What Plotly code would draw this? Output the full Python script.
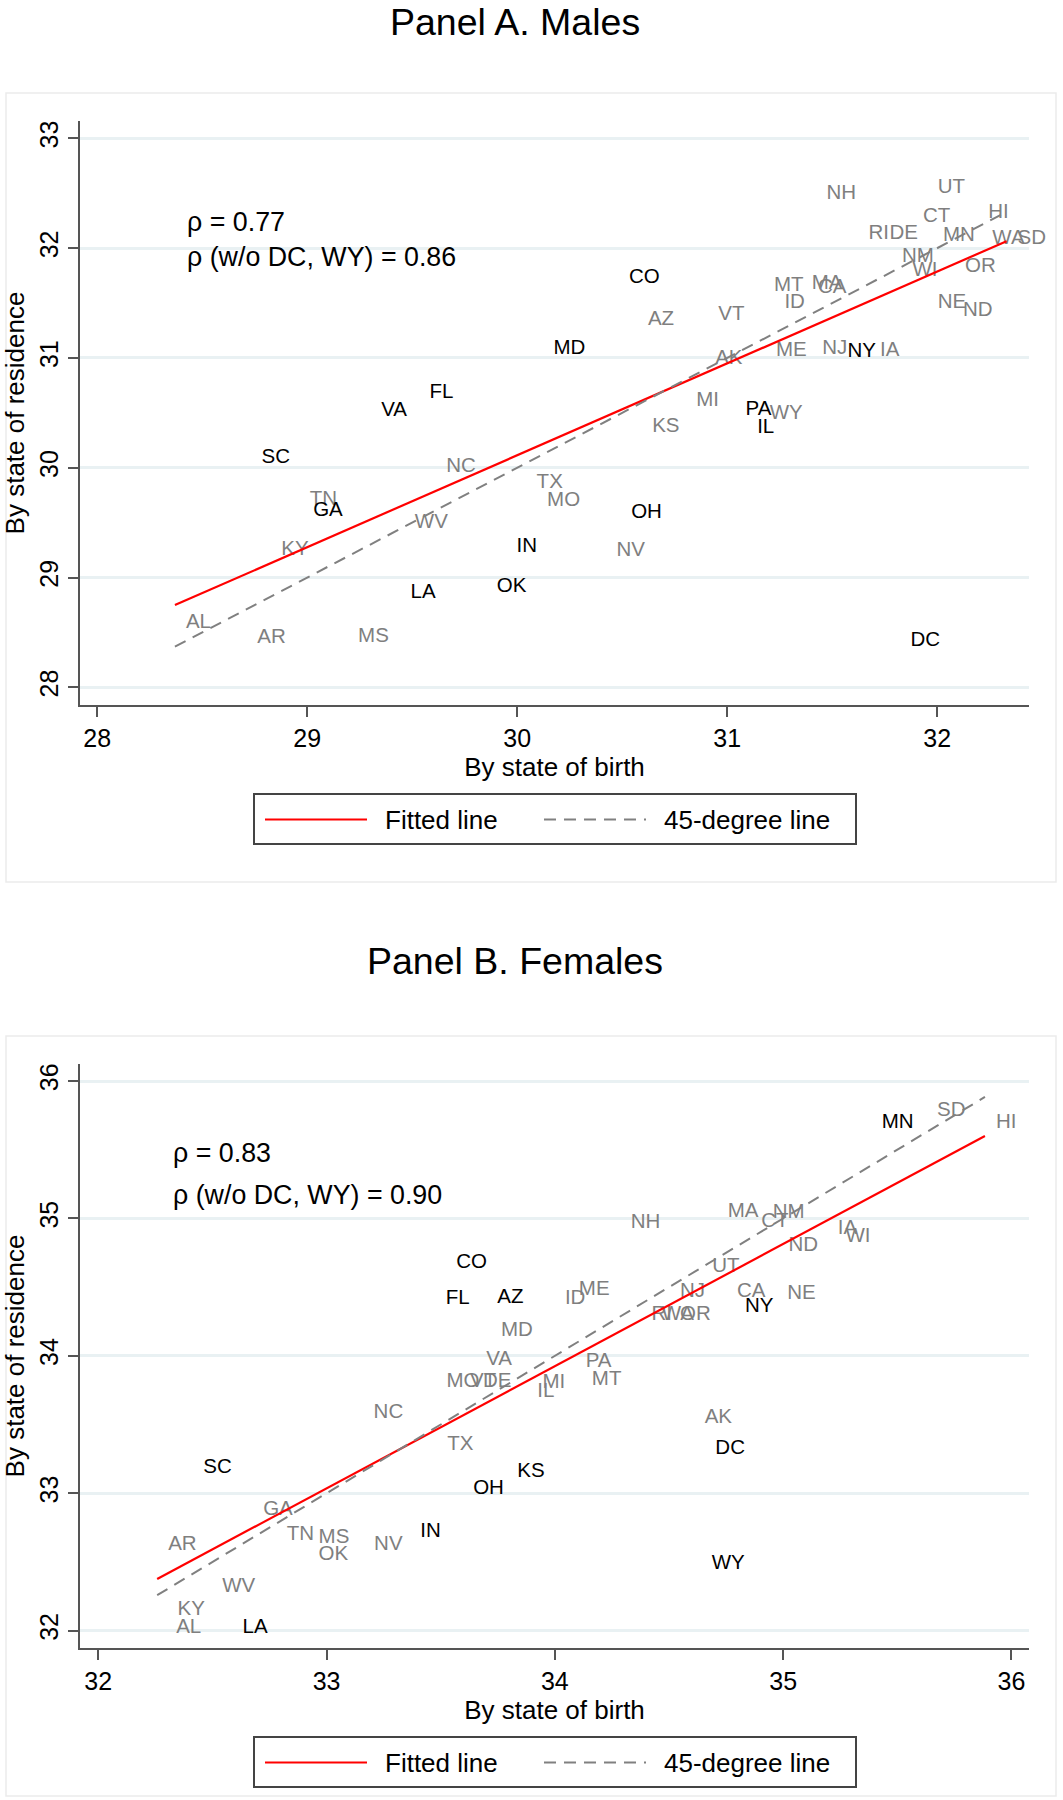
import numpy as np
import plotly.graph_objects as go

FONT = "Arial, Liberation Sans, sans-serif"
W = 1063
H = 1800

# Panel A. Males (age by state of birth vs by state of residence)
states_m = ["NH", "UT", "CT", "HI", "RI", "DE", "MN", "WA", "SD", "NM",
            "WI", "OR", "CO", "MT", "MA", "CA", "ID", "NE", "ND", "AZ",
            "VT", "MD", "ME", "NJ", "NY", "IA", "AK", "MI", "PA", "WY",
            "KS", "IL", "TX", "FL", "VA", "SC", "NC", "TN", "GA", "MO",
            "OH", "WV", "IN", "KY", "NV", "OK", "LA", "AL", "AR", "MS", "DC"]
birth_m = [31.42, 31.95, 31.88, 32.19, 31.62, 31.72, 31.975, 32.21, 32.33, 31.78,
           31.83, 32.08, 30.48, 31.17, 31.35, 31.38, 31.22, 31.95, 32.07, 30.57,
           30.905, 30.12, 31.18, 31.40, 31.52, 31.675, 30.89, 30.80, 31.035, 31.15,
           30.59, 31.09, 30.04, 29.53, 29.30, 28.73, 29.61, 28.96, 28.976, 30.09,
           30.49, 29.46, 29.944, 28.824, 30.42, 29.85, 29.44, 28.37, 28.71, 29.19, 31.82]
residence_m = [32.495, 32.545, 32.286, 32.317, 32.128, 32.128, 32.11, 32.08, 32.08, 31.922,
               31.794, 31.831, 31.725, 31.655, 31.673, 31.634, 31.497, 31.503, 31.43, 31.345,
               31.391, 31.078, 31.066, 31.078, 31.056, 31.066, 30.996, 30.61, 30.525, 30.495,
               30.368, 30.359, 29.858, 30.678, 30.519, 30.086, 30.004, 29.706, 29.608, 29.70,
               29.59, 29.494, 29.28, 29.25, 29.244, 28.916, 28.862, 28.588, 28.446, 28.461, 28.425]
dark_m = ["CO", "MD", "FL", "VA", "SC", "GA", "OH", "IN", "LA", "OK", "NY", "PA", "IL", "DC"]
rho_m = ["\u03c1 = 0.77", "\u03c1 (w/o DC, WY) = 0.86"]

# Panel B. Females
states_f = ["MN", "SD", "HI", "NH", "MA", "CT", "NM", "IA", "WI", "ND",
            "UT", "CO", "FL", "AZ", "ID", "ME", "NJ", "CA", "NY", "NE",
            "RI", "WA", "OR", "MD", "VA", "MO", "VT", "DE", "PA", "MT",
            "MI", "IL", "NC", "AK", "TX", "DC", "SC", "KS", "OH", "GA",
            "IN", "TN", "MS", "AR", "NV", "OK", "WY", "WV", "KY", "AL", "LA"]
birth_f = [35.384, 35.626, 35.884, 34.284, 34.709, 34.856, 34.906, 35.191, 35.225, 34.975,
           34.641, 33.52, 33.474, 33.70, 33.996, 34.057, 34.50, 34.75, 34.785, 34.97,
           34.375, 34.42, 34.50, 33.716, 33.651, 33.477, 33.58, 33.637, 34.087, 34.114,
           33.898, 33.875, 33.158, 34.608, 33.48, 34.655, 32.412, 33.787, 33.594, 32.674,
           33.362, 32.777, 32.917, 32.258, 33.16, 32.917, 34.639, 32.495, 32.299, 32.293, 32.584]
residence_f = [35.692, 35.784, 35.692, 34.969, 35.049, 34.977, 35.038, 34.921, 34.868, 34.80,
               34.649, 34.674, 34.412, 34.424, 34.412, 34.48, 34.468, 34.468, 34.359, 34.449,
               34.298, 34.298, 34.298, 34.184, 33.971, 33.813, 33.813, 33.813, 33.954, 33.825,
               33.801, 33.74, 33.583, 33.547, 33.353, 33.321, 33.183, 33.159, 33.03, 32.88,
               32.722, 32.698, 32.674, 32.625, 32.625, 32.553, 32.487, 32.322, 32.153, 32.02, 32.02]
dark_f = ["MN", "CO", "FL", "AZ", "NY", "DC", "SC", "KS", "OH", "IN", "LA", "WY"]
rho_f = ["\u03c1 = 0.83", "\u03c1 (w/o DC, WY) = 0.90"]

legend_labels = ["Fitted line", "45-degree line"]
titles = ["Panel A. Males", "Panel B. Females"]


def px(x):
    return x / W


def py(y):
    return 1 - y / H


def label_traces(states, x, y, dark, xaxis, yaxis):
    """
    INPUTS
    -states, x, y: state abbreviations and their two average ages
    -dark: states whose label is printed in black
    OUTPUTS
    -two scatter traces (grey labels, black labels)
    """
    traces = []
    for is_dark, colour in [(False, "#7f7f7f"), (True, "#000000")]:
        idx = [i for i in range(len(states)) if (states[i] in dark) == is_dark]
        traces.append(go.Scatter(x = [x[i] for i in idx],
                                 y = [y[i] for i in idx],
                                 text = [states[i] for i in idx],
                                 mode = "markers+text",
                                 textposition = "middle right",
                                 marker = dict(size = 16, color = "rgba(0,0,0,0)"),
                                 textfont = dict(family = FONT, size = 20.5, color = colour),
                                 cliponaxis = False,
                                 hoverinfo = "text",
                                 xaxis = xaxis,
                                 yaxis = yaxis,
                                 showlegend = False))
    return traces


def line_traces(x, y, xaxis, yaxis):
    slope, intercept = np.polyfit(x, y, 1)
    xs = np.array([min(x), max(x)])
    fitted = go.Scatter(x = xs, y = slope * xs + intercept, mode = "lines",
                        line = dict(color = "red", width = 2.2),
                        xaxis = xaxis, yaxis = yaxis, showlegend = False, hoverinfo = "skip")
    diagonal = go.Scatter(x = xs, y = xs, mode = "lines",
                          line = dict(color = "#808080", width = 2, dash = "12px,8px"),
                          xaxis = xaxis, yaxis = yaxis, showlegend = False, hoverinfo = "skip")
    return [fitted, diagonal]


def axis_style(tickvals, rng, domain, anchor, title, is_y):
    d = dict(domain = domain,
             range = rng,
             anchor = anchor,
             tickmode = "array",
             tickvals = tickvals,
             ticktext = [str(v) for v in tickvals],
             ticks = "outside",
             ticklen = 10,
             tickwidth = 2,
             tickcolor = "#555555",
             showline = True,
             linecolor = "#555555",
             linewidth = 2,
             zeroline = False,
             tickfont = dict(family = FONT, size = 25, color = "black"),
             title = dict(text = title, font = dict(family = FONT, size = 26, color = "black")))
    if is_y:
        d.update(showgrid = True, gridcolor = "#e9f1f3", gridwidth = 2.5, tickangle = -90)
        d["title"]["standoff"] = 5
    else:
        d.update(showgrid = False)
        d["title"]["standoff"] = 2
    return d


def legend_items(top):
    """
    draws a Stata-style legend box whose top edge is at pixel row `top`
    """
    mid = top + 25.5
    shapes = [dict(type = "rect", xref = "paper", yref = "paper",
                   x0 = px(254), x1 = px(856), y0 = py(top), y1 = py(top + 50),
                   line = dict(color = "#444444", width = 2), fillcolor = "white"),
              dict(type = "line", xref = "paper", yref = "paper",
                   x0 = px(265), x1 = px(367), y0 = py(mid), y1 = py(mid),
                   line = dict(color = "red", width = 2.2)),
              dict(type = "line", xref = "paper", yref = "paper",
                   x0 = px(544), x1 = px(646), y0 = py(mid), y1 = py(mid),
                   line = dict(color = "#808080", width = 2, dash = "12px,8px"))]
    annotations = [dict(text = legend_labels[0], x = px(383), y = py(mid), xref = "paper", yref = "paper",
                        xanchor = "left", yanchor = "middle", showarrow = False,
                        font = dict(family = FONT, size = 26, color = "black")),
                   dict(text = legend_labels[1], x = px(662), y = py(mid), xref = "paper", yref = "paper",
                        xanchor = "left", yanchor = "middle", showarrow = False,
                        font = dict(family = FONT, size = 26, color = "black"))]
    return shapes, annotations


fig = go.Figure()

for t in label_traces(states_m, birth_m, residence_m, dark_m, "x", "y"):
    fig.add_trace(t)
for t in line_traces(birth_m, residence_m, "x", "y"):
    fig.add_trace(t)
for t in label_traces(states_f, birth_f, residence_f, dark_f, "x2", "y2"):
    fig.add_trace(t)
for t in line_traces(birth_f, residence_f, "x2", "y2"):
    fig.add_trace(t)

x_dom = [px(80), px(1029)]

shapes = [dict(type = "rect", xref = "paper", yref = "paper",
               x0 = px(6), x1 = px(1056), y0 = py(93), y1 = py(882),
               line = dict(color = "#ebebeb", width = 1.5), layer = "below"),
          dict(type = "rect", xref = "paper", yref = "paper",
               x0 = px(6), x1 = px(1056), y0 = py(1036), y1 = py(1796),
               line = dict(color = "#ebebeb", width = 1.5), layer = "below")]

annotations = []
for title, y in zip(titles, [22, 961]):
    annotations.append(dict(text = title, x = px(515), y = py(y), xref = "paper", yref = "paper",
                            xanchor = "center", yanchor = "middle", showarrow = False,
                            font = dict(family = FONT, size = 37.5, color = "black")))

for lines, xr, yr, x0, ys in [(rho_m, "x", "y", 28.42, [32.24, 31.92]),
                              (rho_f, "x2", "y2", 32.32, [35.479, 35.171])]:
    for txt, yv in zip(lines, ys):
        annotations.append(dict(text = txt, x = x0, y = yv, xref = xr, yref = yr,
                                xanchor = "left", yanchor = "middle", showarrow = False,
                                font = dict(family = FONT, size = 26.8, color = "black")))

for top in [794, 1737]:
    s, a = legend_items(top)
    shapes += s
    annotations += a

fig.update_layout(width = W,
                  height = H,
                  margin = dict(l = 0, r = 0, t = 0, b = 0),
                  paper_bgcolor = "white",
                  plot_bgcolor = "white",
                  showlegend = False,
                  xaxis = axis_style([28, 29, 30, 31, 32], [27.918, 32.437], x_dom, "y",
                                     "By state of birth", False),
                  yaxis = axis_style([28, 29, 30, 31, 32, 33], [27.839, 33.158],
                                     [py(705), py(121)], "x", "By state of residence", True),
                  xaxis2 = axis_style([32, 33, 34, 35, 36], [31.92, 36.077], x_dom, "y2",
                                      "By state of birth", False),
                  yaxis2 = axis_style([32, 33, 34, 35, 36], [31.874, 36.124],
                                      [py(1648), py(1064)], "x2", "By state of residence", True),
                  shapes = shapes,
                  annotations = annotations)

# drop the browser's default body margin so the figure fills the 1063x1800 window
fig.write_html("out.html",
               config = {"displayModeBar": False},
               post_script = "document.body.style.margin = '0';")
